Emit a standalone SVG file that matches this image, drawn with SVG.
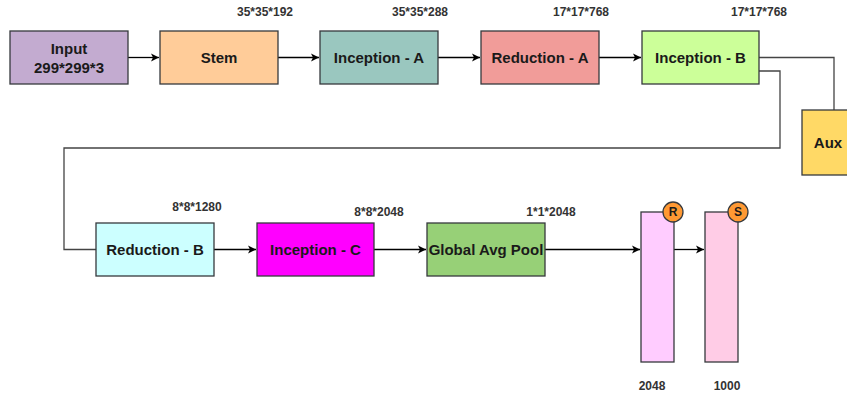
<svg xmlns="http://www.w3.org/2000/svg" width="847" height="394" viewBox="0 0 847 394">
<style>
.n{stroke:#36393d;stroke-width:1.3}
.t{font-family:"Liberation Sans",Arial,sans-serif;font-weight:bold;font-size:15px;fill:#1a1a1a;text-anchor:middle;dominant-baseline:central}
.d{font-family:"Liberation Sans",Arial,sans-serif;font-weight:bold;font-size:12px;fill:#333;text-anchor:middle;dominant-baseline:central}
.c{fill:none;stroke:#000;stroke-width:1.3}
.g{fill:none;stroke:#444;stroke-width:1.3}
</style>
<defs>
<marker id="ah" markerWidth="10" markerHeight="10" refX="9" refY="5" orient="auto" markerUnits="userSpaceOnUse">
<path d="M1,1 L9,5 L1,9 L3,5 Z" fill="#000"/>
</marker>
</defs>
<rect width="847" height="394" fill="#fff"/>
<g id="connectors">
<path class="c" d="M128,57.5 H159" marker-end="url(#ah)"/>
<path class="c" d="M278,57.5 H319" marker-end="url(#ah)"/>
<path class="c" d="M438,57.5 H480" marker-end="url(#ah)"/>
<path class="c" d="M599,57.5 H641" marker-end="url(#ah)"/>
<path class="g" d="M759,57.5 H834 V110"/>
<path class="g" d="M759,71 H780 V148 H64 V249.5 H96"/>
<path class="c" d="M214,249.5 H256" marker-end="url(#ah)"/>
<path class="c" d="M374,249.5 H426" marker-end="url(#ah)"/>
<path class="c" d="M545,249.5 H640" marker-end="url(#ah)"/>
<path class="c" d="M674,249.5 H704" marker-end="url(#ah)"/>
</g>
<g id="input"><rect class="n" x="10" y="31" width="118" height="53" fill="#C3ABD0"/><text class="t" x="69" y="48">Input</text><text class="t" x="69" y="67">299*299*3</text></g>
<g id="stem"><rect class="n" x="160" y="31" width="118" height="53" fill="#FFCC99"/><text class="t" x="219" y="57.5">Stem</text></g>
<g id="inceptionA"><rect class="n" x="320" y="31" width="118" height="53" fill="#9AC7BF"/><text class="t" x="379" y="57.5">Inception - A</text></g>
<g id="reductionA"><rect class="n" x="481" y="31" width="118" height="53" fill="#F19C99"/><text class="t" x="540" y="57.5">Reduction - A</text></g>
<g id="inceptionB"><rect class="n" x="642" y="31" width="117" height="53" fill="#CCFF99"/><text class="t" x="700.5" y="57.5">Inception - B</text></g>
<g id="aux"><rect class="n" x="802" y="110" width="60" height="65" fill="#FFD966"/><text class="t" x="828" y="142.5">Aux</text></g>
<g id="reductionB"><rect class="n" x="96" y="223" width="118" height="53" fill="#CCFFFF"/><text class="t" x="155" y="249.5">Reduction - B</text></g>
<g id="inceptionC"><rect class="n" x="257" y="223" width="117" height="53" fill="#FF00FF"/><text class="t" x="315.5" y="249.5">Inception - C</text></g>
<g id="gap"><rect class="n" x="427" y="223" width="118" height="53" fill="#97D077"/><text class="t" x="486" y="249.5">Global Avg Pool</text></g>
<g id="fc2048"><rect class="n" x="641" y="212" width="33" height="150" fill="#FFCCFF"/><circle class="n" cx="673" cy="212" r="10" fill="#FF9933"/><text class="d" x="673" y="212" style="fill:#1a1a1a">R</text><text class="d" x="652" y="386">2048</text></g>
<g id="fc1000"><rect class="n" x="705" y="212" width="33" height="150" fill="#FFCCE6"/><circle class="n" cx="738" cy="212" r="10" fill="#FF9933"/><text class="d" x="738" y="212" style="fill:#1a1a1a">S</text><text class="d" x="727" y="386">1000</text></g>
<g id="dims">
<text class="d" x="265" y="12">35*35*192</text>
<text class="d" x="420" y="12">35*35*288</text>
<text class="d" x="581" y="12">17*17*768</text>
<text class="d" x="759" y="12">17*17*768</text>
<text class="d" x="197" y="207">8*8*1280</text>
<text class="d" x="379" y="212">8*8*2048</text>
<text class="d" x="551" y="212">1*1*2048</text>
</g>
</svg>
